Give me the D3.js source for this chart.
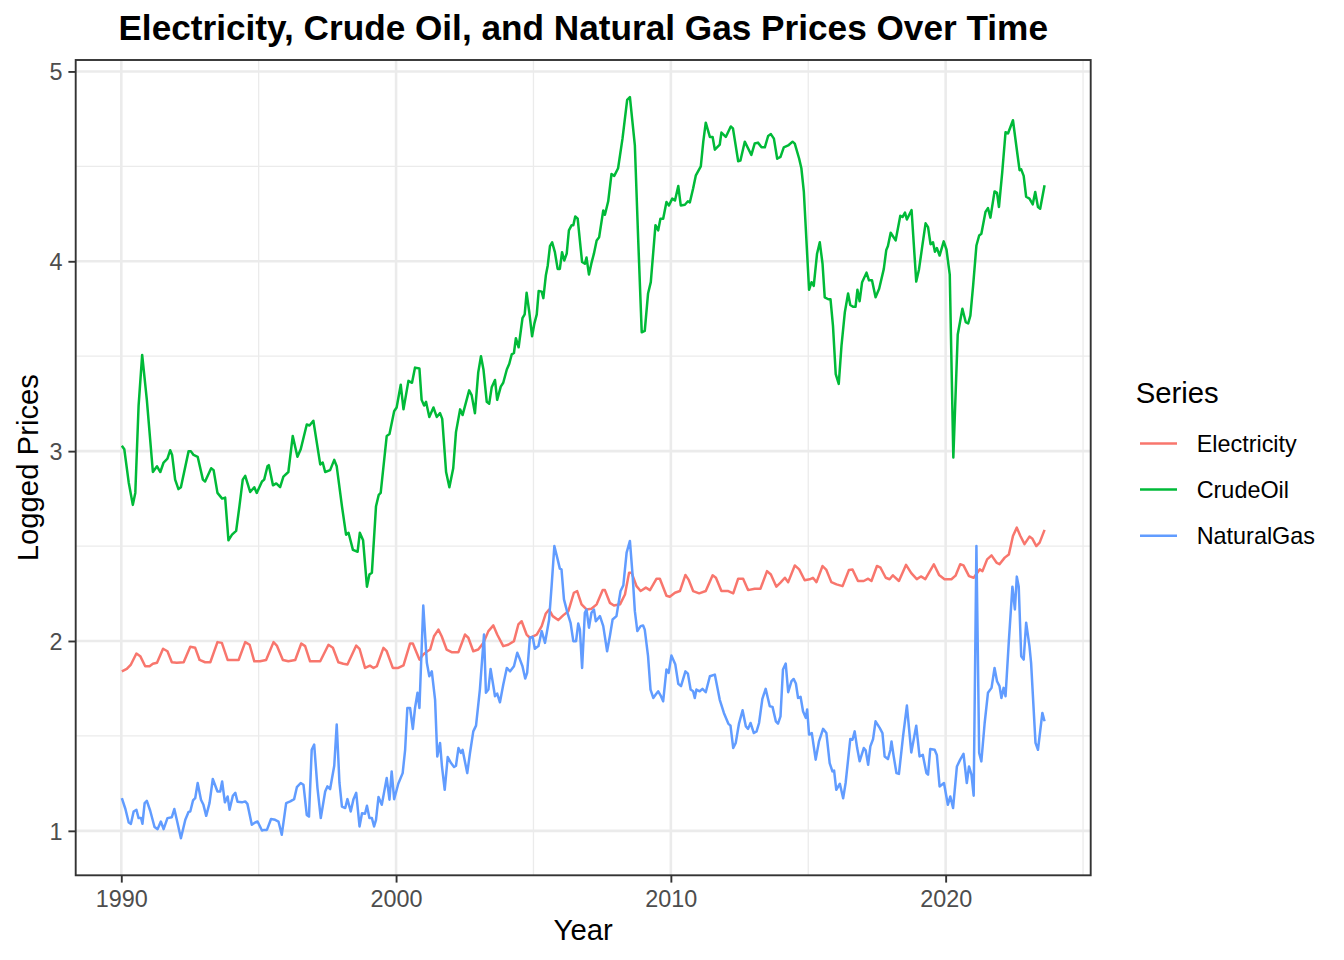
<!DOCTYPE html>
<html>
<head>
<meta charset="utf-8">
<script src="https://cdn.jsdelivr.net/npm/d3@7"></script>
<style>
  html, body { margin: 0; padding: 0; background: #ffffff; }
  svg { display: block; font-family: "Liberation Sans", Arial, Helvetica, sans-serif; }
</style>
</head>
<body>
<svg id="chart" width="1344" height="960"></svg>
<script>
// ---------------- DATA (decimal year, logged price) ----------------
const seriesNames = ["Electricity", "CrudeOil", "NaturalGas"];
const seriesColors = ["#F8766D", "#00BA38", "#619CFF"];
const xTicks = [1990, 2000, 2010, 2020];
const yTicks = [1, 2, 3, 4, 5];

const electricity = [
[1990.02,1.84],[1990.2,1.853],[1990.35,1.876],[1990.55,1.934],[1990.69,1.92],[1990.87,1.867],
[1991.03,1.867],[1991.15,1.88],[1991.30,1.885],[1991.52,1.959],[1991.68,1.946],[1991.84,1.888],
[1992.02,1.885],[1992.27,1.888],[1992.51,1.97],[1992.69,1.964],[1992.85,1.90],[1993.05,1.888],
[1993.24,1.888],[1993.50,1.994],[1993.66,1.99],[1993.87,1.90],[1994.03,1.90],[1994.27,1.90],
[1994.51,1.994],[1994.67,1.98],[1994.84,1.893],[1995.05,1.893],[1995.27,1.90],[1995.54,1.994],
[1995.66,1.976],[1995.88,1.90],[1996.08,1.893],[1996.33,1.90],[1996.55,1.987],[1996.69,1.973],
[1996.87,1.893],[1997.09,1.893],[1997.24,1.893],[1997.54,1.98],[1997.70,1.964],[1997.90,1.888],
[1998.08,1.88],[1998.23,1.876],[1998.55,1.976],[1998.67,1.959],[1998.87,1.858],[1999.05,1.87],
[1999.18,1.858],[1999.30,1.867],[1999.54,1.964],[1999.66,1.946],[1999.88,1.858],[2000.08,1.858],
[2000.27,1.872],[2000.51,1.987],[2000.61,1.987],[2000.85,1.902],[2000.99,1.929],[2001.14,1.946],
[2001.24,1.955],[2001.38,2.025],[2001.54,2.06],[2001.66,2.025],[2001.84,1.955],[2002.02,1.941],
[2002.27,1.941],[2002.51,2.034],[2002.63,2.017],[2002.81,1.946],[2002.99,1.955],[2003.18,1.99],
[2003.36,2.052],[2003.54,2.082],[2003.68,2.034],[2003.90,1.973],[2004.08,1.98],[2004.29,1.999],
[2004.45,2.087],[2004.57,2.104],[2004.75,2.034],[2004.87,2.017],[2005.12,2.034],[2005.30,2.078],
[2005.45,2.145],[2005.57,2.166],[2005.70,2.131],[2005.9,2.11],[2006.08,2.135],[2006.27,2.157],
[2006.47,2.254],[2006.59,2.263],[2006.75,2.193],[2006.93,2.166],[2007.11,2.17],[2007.30,2.193],
[2007.52,2.268],[2007.6,2.268],[2007.78,2.201],[2007.93,2.187],[2008.15,2.193],[2008.33,2.245],
[2008.48,2.36],[2008.57,2.36],[2008.75,2.289],[2008.90,2.263],[2009.09,2.281],[2009.24,2.268],
[2009.48,2.328],[2009.6,2.328],[2009.84,2.238],[2009.96,2.233],[2010.15,2.254],[2010.33,2.263],
[2010.53,2.348],[2010.65,2.322],[2010.81,2.263],[2011.03,2.251],[2011.27,2.263],[2011.52,2.346],
[2011.64,2.333],[2011.84,2.263],[2012.09,2.263],[2012.27,2.251],[2012.45,2.328],[2012.63,2.328],
[2012.81,2.268],[2013.05,2.275],[2013.26,2.275],[2013.50,2.368],[2013.64,2.35],[2013.84,2.286],
[2013.99,2.307],[2014.15,2.333],[2014.27,2.31],[2014.51,2.398],[2014.67,2.377],[2014.87,2.32],
[2015.05,2.325],[2015.17,2.333],[2015.30,2.31],[2015.52,2.395],[2015.66,2.374],[2015.84,2.31],
[2016.03,2.298],[2016.25,2.289],[2016.48,2.374],[2016.61,2.377],[2016.81,2.316],[2017.02,2.316],
[2017.18,2.328],[2017.30,2.316],[2017.50,2.395],[2017.63,2.386],[2017.82,2.333],[2017.96,2.325],
[2018.08,2.346],[2018.30,2.316],[2018.56,2.401],[2018.75,2.357],[2018.95,2.326],[2019.10,2.34],
[2019.26,2.326],[2019.57,2.404],[2019.76,2.348],[2019.96,2.325],[2020.21,2.325],[2020.36,2.344],
[2020.53,2.404],[2020.65,2.398],[2020.85,2.342],[2021.02,2.333],[2021.24,2.377],[2021.34,2.368],
[2021.51,2.43],[2021.67,2.451],[2021.85,2.413],[2021.96,2.404],[2022.15,2.439],[2022.30,2.456],
[2022.45,2.553],[2022.59,2.597],[2022.72,2.553],[2022.87,2.51],[2023.05,2.55],[2023.15,2.54],
[2023.30,2.50],[2023.42,2.518],[2023.6,2.585]
];

const crudeOil = [
[1990.02,3.028],[1990.11,3.01],[1990.27,2.835],[1990.42,2.717],[1990.51,2.78],[1990.63,3.24],
[1990.76,3.507],[1990.93,3.27],[1991.15,2.89],[1991.30,2.92],[1991.42,2.89],[1991.54,2.94],
[1991.68,2.96],[1991.78,3.005],[1991.85,2.98],[1991.96,2.85],[1992.08,2.80],[1992.17,2.81],
[1992.45,3.0],[1992.53,3.0],[1992.63,2.98],[1992.78,2.97],[1992.97,2.85],[1993.05,2.84],
[1993.27,2.91],[1993.36,2.90],[1993.50,2.78],[1993.67,2.75],[1993.78,2.755],[1993.90,2.53],
[1994.03,2.56],[1994.18,2.58],[1994.30,2.71],[1994.42,2.85],[1994.51,2.87],[1994.69,2.785],
[1994.84,2.81],[1994.93,2.78],[1995.12,2.84],[1995.20,2.85],[1995.32,2.92],[1995.37,2.926],
[1995.52,2.82],[1995.64,2.83],[1995.78,2.81],[1995.90,2.866],[1996.08,2.89],[1996.24,3.08],
[1996.41,2.97],[1996.53,3.01],[1996.75,3.14],[1996.85,3.135],[1996.99,3.16],[1997.24,2.93],
[1997.33,2.94],[1997.42,2.89],[1997.60,2.90],[1997.75,2.954],[1997.84,2.92],[1998.03,2.71],
[1998.18,2.56],[1998.27,2.57],[1998.43,2.48],[1998.60,2.47],[1998.68,2.57],[1998.80,2.53],
[1998.94,2.286],[1999.03,2.35],[1999.12,2.36],[1999.27,2.71],[1999.37,2.77],[1999.44,2.78],
[1999.66,3.08],[1999.76,3.09],[1999.93,3.21],[2000.02,3.23],[2000.17,3.35],[2000.27,3.22],
[2000.45,3.37],[2000.58,3.36],[2000.69,3.44],[2000.85,3.435],[2000.93,3.27],[2001.02,3.24],
[2001.09,3.26],[2001.21,3.18],[2001.36,3.23],[2001.48,3.18],[2001.60,3.20],[2001.68,3.17],
[2001.82,2.89],[2001.94,2.81],[2002.08,2.91],[2002.18,3.10],[2002.33,3.22],[2002.42,3.19],
[2002.66,3.32],[2002.75,3.295],[2002.87,3.20],[2002.99,3.415],[2003.09,3.50],[2003.18,3.43],
[2003.30,3.26],[2003.39,3.25],[2003.48,3.336],[2003.60,3.375],[2003.68,3.27],[2003.81,3.34],
[2003.90,3.36],[2004.03,3.43],[2004.12,3.46],[2004.21,3.51],[2004.29,3.517],[2004.36,3.595],
[2004.46,3.547],[2004.60,3.70],[2004.68,3.72],[2004.75,3.834],[2004.85,3.73],[2004.95,3.605],
[2005.03,3.67],[2005.12,3.72],[2005.19,3.844],[2005.30,3.84],[2005.36,3.806],[2005.45,3.925],
[2005.52,3.978],[2005.60,4.08],[2005.68,4.10],[2005.78,4.048],[2005.88,3.96],[2005.96,3.96],
[2006.04,4.048],[2006.12,4.004],[2006.21,4.04],[2006.29,4.163],[2006.39,4.19],[2006.45,4.19],
[2006.52,4.236],[2006.61,4.224],[2006.72,4.066],[2006.77,3.996],[2006.87,3.987],[2006.93,4.02],
[2007.02,3.93],[2007.11,3.99],[2007.20,4.04],[2007.30,4.11],[2007.39,4.127],[2007.54,4.268],
[2007.60,4.245],[2007.72,4.316],[2007.84,4.46],[2007.94,4.45],[2008.08,4.49],[2008.24,4.646],
[2008.41,4.85],[2008.51,4.865],[2008.69,4.61],[2008.81,4.12],[2008.94,3.626],[2009.05,3.633],
[2009.17,3.83],[2009.27,3.89],[2009.44,4.19],[2009.54,4.163],[2009.62,4.224],[2009.72,4.224],
[2009.84,4.312],[2009.93,4.294],[2010.05,4.33],[2010.15,4.32],[2010.27,4.397],[2010.36,4.294],
[2010.51,4.298],[2010.62,4.316],[2010.69,4.31],[2010.81,4.383],[2010.91,4.453],[2011.09,4.50],
[2011.18,4.63],[2011.27,4.73],[2011.42,4.655],[2011.52,4.655],[2011.60,4.588],[2011.78,4.615],
[2011.84,4.678],[2012.0,4.655],[2012.18,4.71],[2012.26,4.70],[2012.45,4.527],[2012.53,4.53],
[2012.69,4.63],[2012.93,4.56],[2013.05,4.62],[2013.17,4.625],[2013.30,4.60],[2013.42,4.60],
[2013.54,4.66],[2013.64,4.67],[2013.75,4.646],[2013.87,4.54],[2013.99,4.55],[2014.11,4.60],
[2014.27,4.61],[2014.43,4.63],[2014.51,4.62],[2014.67,4.54],[2014.75,4.49],[2014.84,4.365],
[2014.93,4.12],[2015.03,3.85],[2015.12,3.89],[2015.20,3.87],[2015.32,4.04],[2015.42,4.10],
[2015.52,3.987],[2015.60,3.81],[2015.73,3.80],[2015.81,3.80],[2015.90,3.66],[2016.0,3.406],
[2016.11,3.354],[2016.21,3.556],[2016.33,3.73],[2016.45,3.83],[2016.53,3.77],[2016.63,3.76],
[2016.72,3.76],[2016.79,3.85],[2016.87,3.79],[2016.96,3.89],[2017.12,3.94],[2017.21,3.90],
[2017.32,3.90],[2017.45,3.81],[2017.58,3.855],[2017.75,3.96],[2017.84,4.06],[2017.90,4.08],
[2018.0,4.15],[2018.18,4.11],[2018.35,4.24],[2018.43,4.233],[2018.52,4.256],[2018.59,4.22],
[2018.76,4.27],[2018.93,3.893],[2019.03,3.957],[2019.15,4.08],[2019.27,4.20],[2019.36,4.18],
[2019.45,4.09],[2019.54,4.10],[2019.61,4.05],[2019.68,4.07],[2019.78,4.03],[2019.93,4.105],
[2020.03,4.062],[2020.15,3.93],[2020.28,2.967],[2020.44,3.614],[2020.61,3.75],[2020.73,3.68],
[2020.82,3.673],[2020.90,3.714],[2021.0,3.872],[2021.12,4.083],[2021.22,4.136],[2021.30,4.145],
[2021.45,4.26],[2021.54,4.28],[2021.63,4.23],[2021.78,4.368],[2021.87,4.36],[2021.94,4.286],
[2022.06,4.47],[2022.18,4.68],[2022.27,4.673],[2022.45,4.743],[2022.57,4.61],[2022.69,4.48],
[2022.75,4.484],[2022.84,4.45],[2022.93,4.34],[2023.05,4.33],[2023.17,4.30],[2023.26,4.365],
[2023.36,4.286],[2023.44,4.277],[2023.6,4.40]
];

const naturalGas = [
[1990.02,1.172],[1990.15,1.115],[1990.27,1.044],[1990.35,1.037],[1990.45,1.102],[1990.55,1.111],
[1990.63,1.067],[1990.72,1.067],[1990.77,1.037],[1990.85,1.146],[1990.93,1.158],[1991.05,1.107],
[1991.21,1.02],[1991.32,1.009],[1991.44,1.049],[1991.54,1.009],[1991.68,1.067],[1991.84,1.072],
[1991.93,1.115],[1992.02,1.058],[1992.17,0.961],[1992.33,1.058],[1992.45,1.10],[1992.51,1.102],
[1992.61,1.16],[1992.69,1.172],[1992.78,1.252],[1992.90,1.164],[1992.99,1.137],[1993.09,1.079],
[1993.21,1.146],[1993.33,1.273],[1993.50,1.207],[1993.6,1.207],[1993.67,1.26],[1993.77,1.15],
[1993.87,1.181],[1993.94,1.111],[1994.06,1.185],[1994.15,1.20],[1994.23,1.153],[1994.39,1.15],
[1994.51,1.155],[1994.59,1.142],[1994.75,1.032],[1994.87,1.044],[1994.96,1.049],[1995.12,1.002],
[1995.2,1.005],[1995.30,1.005],[1995.45,1.062],[1995.60,1.058],[1995.72,1.049],[1995.84,0.979],
[1996.0,1.146],[1996.15,1.155],[1996.29,1.167],[1996.39,1.23],[1996.53,1.252],[1996.63,1.243],
[1996.75,1.084],[1996.83,1.075],[1996.93,1.427],[1997.02,1.454],[1997.14,1.225],[1997.26,1.067],
[1997.42,1.207],[1997.50,1.234],[1997.6,1.22],[1997.75,1.343],[1997.84,1.56],[1997.94,1.252],
[1998.03,1.128],[1998.15,1.12],[1998.23,1.167],[1998.35,1.102],[1998.45,1.167],[1998.55,1.20],
[1998.67,1.023],[1998.76,1.093],[1998.87,1.09],[1998.94,1.132],[1999.03,1.067],[1999.12,1.067],
[1999.2,1.023],[1999.27,1.058],[1999.36,1.178],[1999.48,1.137],[1999.56,1.20],[1999.66,1.278],
[1999.76,1.164],[1999.84,1.313],[1999.93,1.167],[2000.08,1.248],[2000.24,1.304],[2000.33,1.427],
[2000.41,1.647],[2000.51,1.647],[2000.61,1.537],[2000.69,1.647],[2000.78,1.727],[2000.85,1.647],
[2000.99,2.187],[2001.12,1.885],[2001.21,1.814],[2001.30,1.84],[2001.42,1.69],[2001.50,1.392],
[2001.60,1.463],[2001.67,1.339],[2001.77,1.216],[2001.88,1.389],[2002.0,1.357],[2002.11,1.336],
[2002.18,1.343],[2002.27,1.436],[2002.36,1.41],[2002.42,1.427],[2002.59,1.304],[2002.69,1.41],
[2002.81,1.524],[2002.91,1.554],[2003.05,1.744],[2003.2,2.034],[2003.27,1.727],[2003.36,1.744],
[2003.44,1.853],[2003.6,1.709],[2003.68,1.723],[2003.78,1.677],[2003.9,1.77],[2004.03,1.858],
[2004.15,1.84],[2004.29,1.867],[2004.41,1.938],[2004.51,1.902],[2004.60,1.867],[2004.70,1.802],
[2004.77,1.832],[2004.87,2.017],[2004.97,2.022],[2005.05,1.959],[2005.18,1.973],[2005.30,2.052],
[2005.42,1.99],[2005.57,2.113],[2005.66,2.289],[2005.76,2.50],[2005.88,2.43],[2005.96,2.381],
[2006.02,2.377],[2006.11,2.219],[2006.23,2.152],[2006.35,2.096],[2006.45,1.999],[2006.55,1.999],
[2006.63,2.092],[2006.69,2.06],[2006.77,1.858],[2006.87,2.149],[2006.93,2.166],[2007.02,2.07],
[2007.11,2.149],[2007.20,2.166],[2007.27,2.104],[2007.42,2.131],[2007.54,2.078],[2007.68,1.946],
[2007.78,2.025],[2007.88,2.113],[2008.02,2.131],[2008.17,2.263],[2008.27,2.293],[2008.39,2.465],
[2008.51,2.527],[2008.61,2.342],[2008.69,2.157],[2008.78,2.052],[2008.90,2.078],[2008.99,2.082],
[2009.05,2.06],[2009.17,1.92],[2009.26,1.744],[2009.36,1.70],[2009.45,1.718],[2009.54,1.735],
[2009.64,1.709],[2009.72,1.682],[2009.84,1.85],[2009.92,1.832],[2010.02,1.923],[2010.16,1.878],
[2010.27,1.775],[2010.37,1.762],[2010.53,1.84],[2010.62,1.828],[2010.72,1.744],[2010.81,1.735],
[2010.87,1.70],[2010.93,1.744],[2011.05,1.735],[2011.15,1.748],[2011.27,1.73],[2011.42,1.814],
[2011.60,1.823],[2011.78,1.69],[2011.93,1.621],[2012.09,1.565],[2012.17,1.554],[2012.27,1.436],
[2012.36,1.463],[2012.48,1.565],[2012.61,1.635],[2012.73,1.55],[2012.81,1.537],[2012.90,1.568],
[2013.02,1.515],[2013.12,1.524],[2013.21,1.568],[2013.33,1.695],[2013.45,1.748],[2013.60,1.656],
[2013.70,1.653],[2013.82,1.577],[2013.90,1.565],[2013.99,1.603],[2014.08,1.85],[2014.18,1.881],
[2014.27,1.73],[2014.39,1.788],[2014.47,1.80],[2014.55,1.776],[2014.63,1.70],[2014.72,1.706],
[2014.81,1.63],[2014.91,1.595],[2014.96,1.639],[2015.03,1.507],[2015.13,1.515],[2015.27,1.375],
[2015.39,1.471],[2015.54,1.537],[2015.66,1.515],[2015.78,1.357],[2015.88,1.313],[2015.94,1.318],
[2016.02,1.216],[2016.15,1.248],[2016.27,1.172],[2016.36,1.252],[2016.53,1.484],[2016.61,1.48],
[2016.69,1.524],[2016.78,1.436],[2016.87,1.366],[2017.02,1.436],[2017.09,1.424],[2017.18,1.348],
[2017.26,1.445],[2017.36,1.484],[2017.45,1.577],[2017.60,1.542],[2017.70,1.515],[2017.78,1.392],
[2017.90,1.378],[2017.99,1.427],[2018.03,1.471],[2018.11,1.392],[2018.21,1.304],[2018.30,1.30],
[2018.45,1.497],[2018.59,1.66],[2018.75,1.413],[2018.93,1.554],[2019.05,1.392],[2019.17,1.40],
[2019.30,1.304],[2019.36,1.296],[2019.44,1.431],[2019.6,1.427],[2019.68,1.40],[2019.78,1.234],
[2019.94,1.252],[2020.08,1.137],[2020.17,1.181],[2020.27,1.12],[2020.41,1.339],[2020.53,1.375],
[2020.65,1.406],[2020.77,1.252],[2020.85,1.339],[2020.94,1.296],[2021.02,1.185],[2021.12,2.50],
[2021.22,1.41],[2021.30,1.366],[2021.42,1.568],[2021.54,1.727],[2021.67,1.753],[2021.78,1.858],
[2021.87,1.788],[2021.96,1.762],[2022.03,1.70],[2022.11,1.753],[2022.18,1.709],[2022.30,1.999],
[2022.43,2.286],[2022.52,2.166],[2022.59,2.339],[2022.66,2.286],[2022.75,1.92],[2022.84,1.902],
[2022.93,2.096],[2023.05,1.973],[2023.11,1.885],[2023.27,1.463],[2023.36,1.427],[2023.52,1.621],
[2023.6,1.577]
];

const seriesData = [electricity, crudeOil, naturalGas];

// ---------------- LAYOUT ----------------
const svg = d3.select("#chart");
const panel = { left: 75.7, right: 1090.7, top: 60, bottom: 875.3 };

const allPts = seriesData.flat();
const xExt = d3.extent(allPts, d => d[0]);
const yExt = d3.extent(allPts, d => d[1]);
const xPad = (xExt[1] - xExt[0]) * 0.05;
const yPad = (yExt[1] - yExt[0]) * 0.05;

const x = d3.scaleLinear().domain([xExt[0] - xPad, xExt[1] + xPad]).range([panel.left, panel.right]);
const y = d3.scaleLinear().domain([yExt[0] - yPad, yExt[1] + yPad]).range([panel.bottom, panel.top]);

const xMinor = [1985, 1995, 2005, 2015, 2025].filter(v => v >= x.domain()[0] && v <= x.domain()[1]);
const yMinor = [0.5, 1.5, 2.5, 3.5, 4.5, 5.5].filter(v => v >= y.domain()[0] && v <= y.domain()[1]);

const g = svg.append("g");

g.append("rect").attr("x", panel.left).attr("y", panel.top)
  .attr("width", panel.right - panel.left).attr("height", panel.bottom - panel.top)
  .attr("fill", "#ffffff");

const grid = g.append("g");
grid.selectAll(".xminor").data(xMinor).join("line")
  .attr("x1", d => x(d)).attr("x2", d => x(d))
  .attr("y1", panel.top).attr("y2", panel.bottom)
  .attr("stroke", "#ebebeb").attr("stroke-width", 1.3);
grid.selectAll(".yminor").data(yMinor).join("line")
  .attr("y1", d => y(d)).attr("y2", d => y(d))
  .attr("x1", panel.left).attr("x2", panel.right)
  .attr("stroke", "#ebebeb").attr("stroke-width", 1.3);
grid.selectAll(".xmajor").data(xTicks).join("line")
  .attr("x1", d => x(d)).attr("x2", d => x(d))
  .attr("y1", panel.top).attr("y2", panel.bottom)
  .attr("stroke", "#ebebeb").attr("stroke-width", 2.6);
grid.selectAll(".ymajor").data(yTicks).join("line")
  .attr("y1", d => y(d)).attr("y2", d => y(d))
  .attr("x1", panel.left).attr("x2", panel.right)
  .attr("stroke", "#ebebeb").attr("stroke-width", 2.6);

const line = d3.line().x(d => x(d[0])).y(d => y(d[1]));
g.append("g").selectAll("path").data(seriesData).join("path")
  .attr("d", d => line(d))
  .attr("fill", "none")
  .attr("stroke", (d, i) => seriesColors[i])
  .attr("stroke-width", 2.5)
  .attr("stroke-linejoin", "round")
  .attr("stroke-linecap", "butt");

g.append("rect").attr("x", panel.left).attr("y", panel.top)
  .attr("width", panel.right - panel.left).attr("height", panel.bottom - panel.top)
  .attr("fill", "none").attr("stroke", "#333333").attr("stroke-width", 1.9);

const xAxis = d3.axisBottom(x).tickValues(xTicks).tickFormat(d3.format("d"))
  .tickSize(7.3).tickPadding(6);
const yAxis = d3.axisLeft(y).tickValues(yTicks).tickFormat(d3.format("d"))
  .tickSize(7.3).tickPadding(6);

const gx = svg.append("g").attr("transform", `translate(0,${panel.bottom})`).call(xAxis);
const gy = svg.append("g").attr("transform", `translate(${panel.left},0)`).call(yAxis);
[gx, gy].forEach(a => {
  a.select(".domain").remove();
  a.selectAll(".tick line").attr("stroke", "#333333").attr("stroke-width", 1.9);
  a.selectAll(".tick text").attr("fill", "#4d4d4d")
    .style("font-size", "23.4px").style("font-family", "'Liberation Sans', Arial, sans-serif");
});
gx.selectAll(".tick text").attr("dy", null).attr("y", 31.8);
gy.selectAll(".tick text").attr("dy", "0.36em");

svg.append("text")
  .attr("x", (panel.left + panel.right) / 2).attr("y", 40)
  .attr("text-anchor", "middle")
  .style("font-size", "35.2px").style("font-weight", "bold")
  .attr("fill", "#000000")
  .text("Electricity, Crude Oil, and Natural Gas Prices Over Time");

svg.append("text")
  .attr("x", (panel.left + panel.right) / 2).attr("y", 940)
  .attr("text-anchor", "middle")
  .style("font-size", "29.3px").attr("fill", "#000000")
  .text("Year");
svg.append("text")
  .attr("transform", `translate(37.5,${(panel.top + panel.bottom) / 2}) rotate(-90)`)
  .attr("text-anchor", "middle")
  .style("font-size", "29.3px").attr("fill", "#000000")
  .text("Logged Prices");

const leg = svg.append("g");
leg.append("text").attr("x", 1135.7).attr("y", 403)
  .style("font-size", "29.3px").attr("fill", "#000000").text("Series");
const keyY = [443.5, 489.5, 535.7];
const items = leg.selectAll(".item").data(seriesNames).join("g");
items.append("line")
  .attr("x1", 1140).attr("x2", 1177)
  .attr("y1", (d, i) => keyY[i]).attr("y2", (d, i) => keyY[i])
  .attr("stroke", (d, i) => seriesColors[i]).attr("stroke-width", 2.5);
items.append("text")
  .attr("x", 1196.7).attr("y", (d, i) => keyY[i] + 8.4)
  .style("font-size", "23.4px").attr("fill", "#000000")
  .text(d => d);
</script>
</body>
</html>
